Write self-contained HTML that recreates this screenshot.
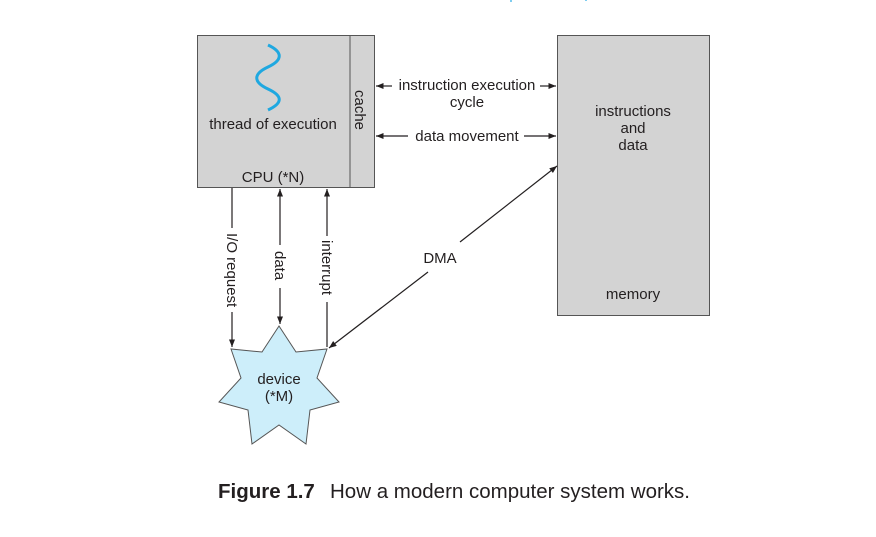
<!DOCTYPE html>
<html><head><meta charset="utf-8"><style>
html,body{margin:0;padding:0;background:#fff;}
svg{display:block;}
text{font-family:"Liberation Sans",sans-serif;fill:#231f20;}
</style></head><body>
<svg width="876" height="537" viewBox="0 0 876 537" xmlns="http://www.w3.org/2000/svg">
<defs>
<marker id="a" viewBox="0 0 10 8" refX="10" refY="4" markerWidth="8" markerHeight="6" orient="auto-start-reverse" markerUnits="userSpaceOnUse">
<path d="M0,0 L10,4 L0,8 z" fill="#231f20"/></marker>
</defs>
<rect x="510" y="0" width="2" height="2" fill="#7fcdf0"/>
<rect x="585" y="0" width="2" height="1" fill="#7fcdf0"/>
<!-- CPU -->
<rect x="197.5" y="35.5" width="177" height="152" fill="#d3d3d3" stroke="#555" stroke-width="1"/>
<line x1="350" y1="36" x2="350" y2="187" stroke="#555" stroke-width="1"/>
<text x="0" y="0" font-size="15" transform="translate(355,90) rotate(90)">cache</text>
<path d="M268,45 C283,52 283,60 268,67 C253,74 253,82 268,89 C283,96 283,103 268,110" fill="none" stroke="#1fa8e0" stroke-width="3"/>
<text x="273" y="129" font-size="15" text-anchor="middle">thread of execution</text>
<text x="273" y="182" font-size="15" text-anchor="middle">CPU (*N)</text>
<!-- memory -->
<rect x="557.5" y="35.5" width="152" height="280" fill="#d3d3d3" stroke="#555" stroke-width="1"/>
<text x="633" y="116" font-size="15" text-anchor="middle">instructions</text>
<text x="633" y="133" font-size="15" text-anchor="middle">and</text>
<text x="633" y="150" font-size="15" text-anchor="middle">data</text>
<text x="633" y="299" font-size="15" text-anchor="middle">memory</text>
<!-- horizontal arrows -->
<line x1="392" y1="86" x2="376" y2="86" stroke="#231f20" stroke-width="1.2" marker-end="url(#a)"/>
<line x1="540" y1="86" x2="556" y2="86" stroke="#231f20" stroke-width="1.2" marker-end="url(#a)"/>
<text x="467" y="90" font-size="15" text-anchor="middle">instruction execution</text>
<text x="467" y="107" font-size="15" text-anchor="middle">cycle</text>
<line x1="408" y1="136" x2="376" y2="136" stroke="#231f20" stroke-width="1.2" marker-end="url(#a)"/>
<line x1="524" y1="136" x2="556" y2="136" stroke="#231f20" stroke-width="1.2" marker-end="url(#a)"/>
<text x="467" y="141" font-size="15" text-anchor="middle">data movement</text>
<!-- star -->
<polygon points="279,326 296,352 327,349 317,378 339,402 310,410 306,444 279,425 252,444 248,410 219,402 241,378 231,349 262,352" fill="#cdeefa" stroke="#555" stroke-width="1"/>
<text x="279" y="384" font-size="15" text-anchor="middle">device</text>
<text x="279" y="401" font-size="15" text-anchor="middle">(*M)</text>
<!-- vertical arrows -->
<line x1="232" y1="188" x2="232" y2="228" stroke="#231f20" stroke-width="1.2"/>
<line x1="232" y1="312" x2="232" y2="347" stroke="#231f20" stroke-width="1.2" marker-end="url(#a)"/>
<text font-size="15" transform="translate(227,233) rotate(90)">I/O request</text>
<line x1="280" y1="245" x2="280" y2="189" stroke="#231f20" stroke-width="1.2" marker-end="url(#a)"/>
<line x1="280" y1="288" x2="280" y2="324" stroke="#231f20" stroke-width="1.2" marker-end="url(#a)"/>
<text font-size="15" transform="translate(275,251) rotate(90)">data</text>
<line x1="327" y1="236" x2="327" y2="189" stroke="#231f20" stroke-width="1.2" marker-end="url(#a)"/>
<line x1="327" y1="302" x2="327" y2="347" stroke="#231f20" stroke-width="1.2"/>
<text font-size="15" transform="translate(322,240) rotate(90)">interrupt</text>
<!-- DMA -->
<line x1="460" y1="242" x2="557" y2="166" stroke="#231f20" stroke-width="1.2" marker-end="url(#a)"/>
<line x1="428" y1="272" x2="329" y2="348" stroke="#231f20" stroke-width="1.2" marker-end="url(#a)"/>
<text x="440" y="263" font-size="15" text-anchor="middle">DMA</text>
<!-- caption -->
<text x="218" y="498" font-size="20.5" font-weight="bold">Figure 1.7</text>
<text x="330" y="498" font-size="20.5">How a modern computer system works.</text>
</svg>
</body></html>
